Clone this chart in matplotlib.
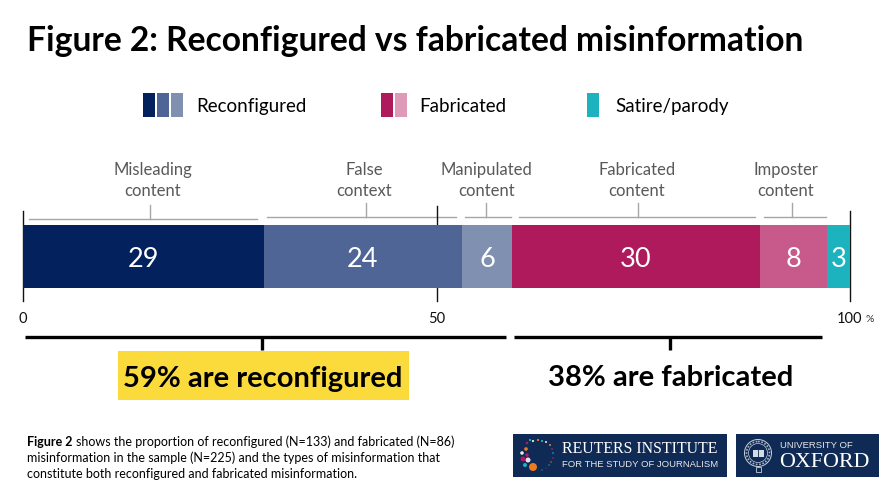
import matplotlib
matplotlib.use("Agg")
import matplotlib.pyplot as plt
from matplotlib.patches import Rectangle, Circle

plt.rcParams['font.family'] = ['Lato', 'DejaVu Sans']

segmentos = ['Misleading\ncontent', 'False\ncontext', 'Manipulated\ncontent',
             'Fabricated\ncontent', 'Imposter\ncontent', '']
valores = [29.1, 24.0, 6.0, 30.0, 8.1, 2.8]
etiquetas = ['29', '24', '6', '30', '8', '3']
colores = ['#03215d', '#4f6595', '#8090b0', '#ae1a5b', '#c75a8b', '#1cb3bf']
ticks = [0, 50, 100]
tick_labels = ['0', '50', '100']

leyenda = ['Reconfigured', 'Fabricated', 'Satire/parody']
NAVY = '#0f2a54'

fig = plt.figure(figsize=(8.96, 5.03), dpi=100)

# capa en pixeles para textos y anotaciones
lay = fig.add_axes([0, 0, 1, 1])
lay.set_xlim(0, 896)
lay.set_ylim(503, 0)
lay.axis('off')

# barra apilada
ax = fig.add_axes([23 / 896, 1 - 288 / 503, 827 / 896, 63 / 503])
ax.set_xlim(0, 100)
ax.set_ylim(0, 1)
ax.axis('off')
izq = 0
for val, et, col in zip(valores, etiquetas, colores):
    ax.barh(0.5, val, height=1, left=izq, color=col)
    ax.text(izq + val / 2, 0.46, et, color='white', fontsize=19.5, ha='center', va='center')
    izq += val

# ejes verticales y numeros
for t, lab in zip(ticks, tick_labels):
    x = 23 + t * 8.27
    top = 206 if t == 50 else 211
    lay.plot([x, x], [top, 301], color='#111111', lw=1.0, zorder=5)
    lay.text(x, 319, lab, fontsize=10.5, color='#111111', ha='center', va='center')
lay.text(869.5, 319, '%', fontsize=7.5, color='#333333', ha='center', va='center')

# corchetes grises con nombre de cada tipo
brackets = [(29, 257, 150, 218.5), (267, 456, 365.5, 217), (465, 511, 486, 217),
            (519, 755, 637.5, 217), (764, 826, 792, 217)]
centros = [152.5, 364, 486.5, 637, 786]
for (x0, x1, xm, y), nombre, xc in zip(brackets, segmentos, centros):
    lay.plot([x0, x1], [y, y], color='#a6a6a6', lw=1.0)
    lay.plot([xm, xm], [y - 14, y], color='#a6a6a6', lw=1.0)
    lay.text(xc, 180.5, nombre, fontsize=12, color='#595959',
             ha='center', va='center', linespacing=1.38)

# titulo
lay.text(27, 41, 'Figure 2: Reconfigured vs fabricated misinformation', fontsize=24.2,
         fontweight='bold', color='black', ha='left', va='center')

# leyenda
for x, col in [(143, colores[0]), (157, colores[1]), (171, colores[2]),
               (381, colores[3]), (394.5, '#de9ab8'), (587, colores[5])]:
    lay.add_patch(Rectangle((x, 92.5), 12, 24, color=col, lw=0))
for x, txt in zip([196, 419, 615], leyenda):
    lay.text(x, 106, txt, fontsize=13.5, color='black', ha='left', va='center')

# corchetes negros
for x0, x1, xm in [(25, 506, 262), (514, 822, 669.5)]:
    lay.plot([x0, x1], [336.5, 336.5], color='black', lw=2.4, solid_capstyle='butt')
    lay.plot([xm, xm], [336.5, 350], color='black', lw=2.4, solid_capstyle='butt')

lay.add_patch(Rectangle((118, 351), 291, 49, color='#fbdb3b', lw=0))
lay.text(263, 378.5, '59% are reconfigured', fontsize=21, fontweight='bold', color='black',
         ha='center', va='center')
lay.text(671, 378.5, '38% are fabricated', fontsize=21, fontweight='bold', color='black',
         ha='center', va='center')

# nota al pie
r = fig.canvas.get_renderer()
b = lay.text(27, 442, 'Figure 2', fontsize=9, fontweight='bold', color='black', ha='left', va='center')
ext = b.get_window_extent(r)
lay.text(ext.x1 + 3, 442, 'shows the proportion of reconfigured (N=133) and fabricated (N=86)',
         fontsize=9, color='black', ha='left', va='center')
lay.text(27, 457.5, 'misinformation in the sample (N=225) and the types of misinformation that',
         fontsize=9, color='black', ha='left', va='center')
lay.text(27, 473.5, 'constitute both reconfigured and fabricated misinformation.',
         fontsize=9, color='black', ha='left', va='center')

# logos
lay.add_patch(Rectangle((513, 434), 214, 43, color=NAVY, lw=0))
lay.add_patch(Rectangle((736, 434), 143, 43, color=NAVY, lw=0))
lay.text(562, 449, 'REUTERS INSTITUTE', family='Liberation Serif', fontsize=11.4, color='white',
         ha='left', va='center')
lay.text(562, 464.5, 'FOR THE STUDY OF JOURNALISM', family='Liberation Sans', fontsize=6.8, color='#e8e8e8',
         ha='left', va='center')
lay.text(780, 445.5, 'UNIVERSITY OF', family='Liberation Sans', fontsize=6.8, color='#e8e8e8',
         ha='left', va='center')
lay.text(779, 462.5, 'OXFORD', family='Liberation Serif', fontsize=15.8, color='white',
         ha='left', va='center')
puntos = [(533, 467, 4, '#ee7a22'), (525, 465, 2, '#1cb3bf'), (528, 460, 2.5, '#e8dfe8'),
          (523, 459, 2.5, '#ae1a5b'), (522, 453, 1.8, '#e8e8e8'), (527, 455, 1.8, '#ae1a5b'),
          (526, 449, 1.8, '#ee7a22'), (527, 443, 1.3, '#ae1a5b'), (530, 440, 1.1, '#1cb3bf'),
          (533, 441, 1.1, '#e8e8e8'), (538, 440, 1.1, '#ee7a22'), (542, 441, 1.1, '#1cb3bf'),
          (546, 442, 1, '#e8e8e8'), (550, 445, 1, '#ee7a22'), (552, 449, 0.9, '#ae1a5b'),
          (553, 453, 0.8, '#1cb3bf'), (553, 458, 0.8, '#ae1a5b'), (551, 462, 0.7, '#ee7a22'),
          (549, 465, 0.7, '#1cb3bf'), (546, 468, 0.6, '#ae1a5b'), (542, 470, 0.6, '#1cb3bf')]
for x, y, rad, col in puntos:
    lay.add_patch(Circle((x, y), rad, color=col, lw=0))
# escudo
lay.add_patch(Circle((758, 453), 13.5, fill=False, ec='#c8d0dc', lw=0.7))
lay.add_patch(Circle((758, 453), 11.5, fill=False, ec='#aab4c4', lw=1.2, ls=(0, (1, 1))))
lay.add_patch(Circle((758, 453), 9.5, fill=False, ec='#c8d0dc', lw=0.5))
lay.add_patch(Rectangle((752.5, 450), 11, 7, color='#d5dbe4', lw=0))
lay.plot([758, 758], [450, 457], color=NAVY, lw=0.6)
lay.add_patch(Rectangle((755.5, 467), 5, 5, fill=False, ec='#c8d0dc', lw=0.6))

fig.savefig('out.png', dpi=100)
